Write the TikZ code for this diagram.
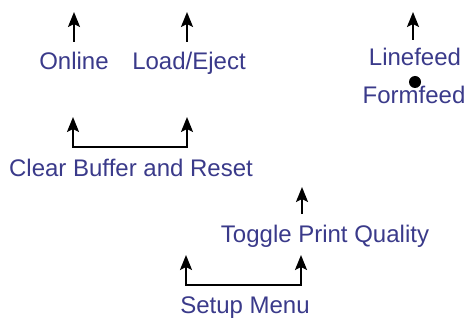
\documentclass[tikz,border=0pt]{standalone}
\usepackage{fontspec}
\setmainfont{Liberation Sans}
\usepackage{xcolor}
\usetikzlibrary{arrows.meta}

\definecolor{keyblue}{RGB}{58,58,138}
\tikzset{
  keylabel/.style={text=keyblue, font=\fontsize{24}{28}\selectfont, anchor=base, inner sep=0pt},
  keytip/.tip={Stealth[length=15pt,width=12pt,inset=3pt]},
  keyarrow/.style={-keytip, line width=2.2pt},
  keyboth/.style={keytip-keytip, line width=2.2pt}
}

\begin{document}
\begin{tikzpicture}[x=1pt,y=-1pt]
  \useasboundingbox (0,0) rectangle (470,320);
  % top row of keys
  \coordinate (online tip) at (74,12);
  \coordinate (online foot) at (74,42);
  \coordinate (load tip) at (187,12);
  \coordinate (load foot) at (187,42);
  \coordinate (line tip) at (413,12);
  \coordinate (line foot) at (413,40);
  \draw[keyarrow] (online foot) -- (online tip);
  \draw[keyarrow] (load foot) -- (load tip);
  \draw[keyarrow] (line foot) -- (line tip);
  \node[keylabel] (online) at (74,70) {Online};
  \node[keylabel] (loadeject) at (189,70) {Load/Eject};
  \node[keylabel] (linefeed) at (415,66) {Linefeed};
  \fill (415,82) circle (6);
  \node[keylabel] (formfeed) at (414,104) {Formfeed};
  % two keys together
  \coordinate (clear left) at (73,117);
  \coordinate (clear right) at (187,117);
  \coordinate (clear lc) at (73,147);
  \coordinate (clear rc) at (187,147);
  \draw[keyboth] (clear left) -- (clear lc) -- (clear rc) -- (clear right);
  \node[keylabel] (clearbuf) at (131,177) {Clear Buffer and Reset};
  % print quality
  \coordinate (toggle tip) at (302,187);
  \coordinate (toggle foot) at (302,214);
  \draw[keyarrow] (toggle foot) -- (toggle tip);
  \node[keylabel] (toggle) at (325,242) {Toggle Print Quality};
  % setup
  \coordinate (setup left) at (186,255);
  \coordinate (setup right) at (301,255);
  \coordinate (setup lc) at (186,285);
  \coordinate (setup rc) at (301,285);
  \draw[keyboth] (setup left) -- (setup lc) -- (setup rc) -- (setup right);
  \node[keylabel] (setup) at (245,313) {Setup Menu};
\end{tikzpicture}
\end{document}
